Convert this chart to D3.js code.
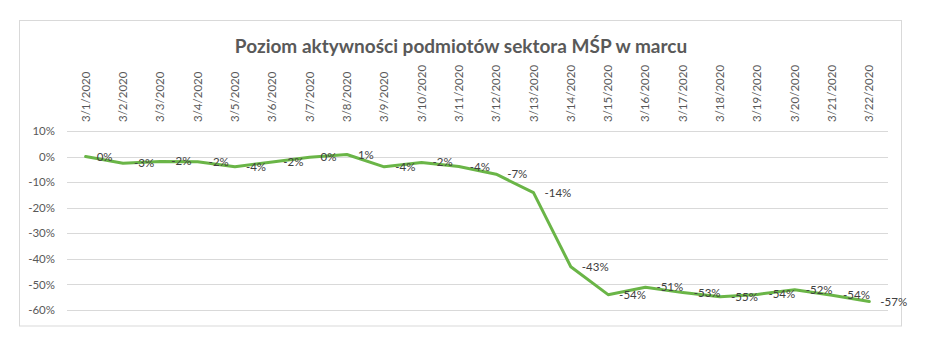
<!DOCTYPE html>
<html><head><meta charset="utf-8">
<script src="https://cdn.jsdelivr.net/npm/d3@7/dist/d3.min.js"></script>
<style>body{margin:0;background:#fff;} svg{display:block;}</style>
</head><body>
<script>
const title = "Poziom aktywności podmiotów sektora MŚP w marcu";
const dates = ["3/1/2020","3/2/2020","3/3/2020","3/4/2020","3/5/2020","3/6/2020","3/7/2020","3/8/2020","3/9/2020","3/10/2020","3/11/2020","3/12/2020","3/13/2020","3/14/2020","3/15/2020","3/16/2020","3/17/2020","3/18/2020","3/19/2020","3/20/2020","3/21/2020","3/22/2020"];
const values = [0.0, -2.6, -1.9, -2.0, -4.0, -2.1, -0.3, 0.8, -4.0, -2.3, -3.9, -6.9, -14.1, -43.1, -54.0, -51.1, -53.2, -54.8, -53.9, -52.1, -54.2, -56.7];
const yTicks = [10, 0, -10, -20, -30, -40, -50, -60];

const W = 926, H = 339;
const font = "Lato, 'Open Sans', sans-serif";
const svg = d3.select("body").append("svg").attr("width", W).attr("height", H);

svg.append("rect").attr("x", 19.5).attr("y", 20.5).attr("width", 882).attr("height", 305.5)
  .attr("fill", "#fff").attr("stroke", "#d9d9d9").attr("stroke-width", 1);

svg.append("text").attr("x", 461).attr("y", 53).attr("text-anchor", "middle")
  .attr("font-family", font).attr("font-weight", "bold").attr("font-size", 19)
  .attr("fill", "#595959").text(title);

const x = d3.scaleBand().domain(dates).range([67, 888]);
const y = d3.scaleLinear().domain([-60, 10]).range([310, 131]);

// gridlines
svg.append("g").selectAll("line").data(yTicks).join("line")
  .attr("x1", 67).attr("x2", 888)
  .attr("y1", d => Math.round(y(d)) + 0.5).attr("y2", d => Math.round(y(d)) + 0.5)
  .attr("stroke", "#d9d9d9").attr("stroke-width", 1);

// y axis labels
const yAxis = d3.axisLeft(y).tickValues(yTicks).tickSize(0).tickPadding(0).tickFormat(d => d + "%");
const gy = svg.append("g").attr("transform", "translate(55,0)").call(yAxis);
gy.select(".domain").remove();
gy.selectAll("text").attr("font-family", font).attr("font-size", 11.5).attr("fill", "#595959");

// top category axis, rotated labels
const xAxis = d3.axisTop(x).tickSize(0).tickPadding(0);
const gx = svg.append("g").attr("transform", "translate(0,122)").call(xAxis);
gx.select(".domain").remove();
gx.selectAll("text")
  .attr("font-family", font).attr("font-size", 11.5).attr("fill", "#595959")
  .attr("transform", "rotate(-90)")
  .attr("text-anchor", "start").attr("x", 0).attr("y", 0).attr("dy", "0.35em");

const cx = d => x(d) + x.bandwidth() / 2;
const pts = dates.map((d, i) => [cx(d), y(values[i])]);

svg.append("path").attr("d", d3.line()(pts))
  .attr("fill", "none").attr("stroke", "#6ab547").attr("stroke-width", 3)
  .attr("stroke-linejoin", "round").attr("stroke-linecap", "round");

svg.append("g").selectAll("text").data(pts).join("text")
  .attr("x", d => d[0] + 11).attr("y", d => d[1]).attr("dy", "0.35em")
  .attr("font-family", font).attr("font-size", 11.5).attr("fill", "#404040")
  .text((d, i) => Math.round(values[i]) + "%");
</script>
</body></html>
